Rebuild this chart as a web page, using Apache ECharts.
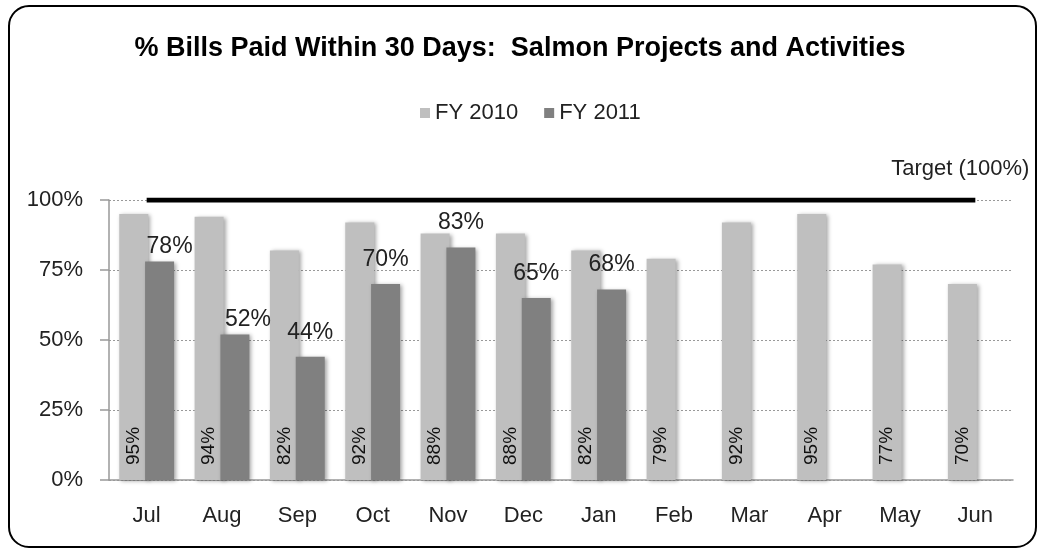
<!DOCTYPE html>
<html>
<head>
<meta charset="utf-8">
<script src="https://cdn.jsdelivr.net/npm/echarts@6/dist/echarts.min.js"></script>
<style>
html,body{margin:0;padding:0;background:#fff;}
#chart{width:1040px;height:550px;}
</style>
</head>
<body>
<div id="chart"></div>
<script>
const titleText = '% Bills Paid Within 30 Days:  Salmon Projects and Activities';
const months = ['Jul','Aug','Sep','Oct','Nov','Dec','Jan','Feb','Mar','Apr','May','Jun'];
const fy2010 = [95, 94, 82, 92, 88, 88, 82, 79, 92, 95, 77, 70];
const fy2011 = [78, 52, 44, 70, 83, 65, 68, null, null, null, null, null];
const target = [100, 100, 100, 100, 100, 100, 100, 100, 100, 100, 100, 100];
const targetLabel = 'Target (100%)';
const yTicks = [0, 25, 50, 75, 100];

const FONT = '"Liberation Sans", Arial, sans-serif';
const shadow = {shadowBlur: 4, shadowColor: 'rgba(0,0,0,0.35)', shadowOffsetX: 2, shadowOffsetY: 1};

const chart = echarts.init(document.getElementById('chart'), null, {renderer: 'canvas'});

const fy2011Data = fy2011.map(function (v, i) {
  if (v === null) return null;
  const item = {value: v};
  if (i === 0) item.label = {offset: [10, 0], distance: 3};
  if (i === 1) item.label = {offset: [13, 0], distance: 3};
  return item;
});

const targetData = target.map(function (v, i) {
  if (i === target.length - 1) {
    return {value: v, label: {show: true, formatter: targetLabel, position: 'top', distance: 20, offset: [-15, 0],
      color: '#222', fontSize: 22, fontFamily: FONT}};
  }
  return v;
});

chart.setOption({
  animation: false,
  backgroundColor: '#fff',
  textStyle: {fontFamily: FONT},
  title: {
    text: titleText,
    left: 'center',
    top: 30,
    textStyle: {fontSize: 27, fontWeight: 'bold', color: '#000', fontFamily: FONT}
  },
  legend: {
    left: 415,
    top: 97,
    itemWidth: 10,
    itemHeight: 10,
    itemGap: 26,
    icon: 'rect',
    data: ['FY 2010', 'FY 2011'],
    textStyle: {fontSize: 22, color: '#222', fontFamily: FONT}
  },
  grid: {left: 109, right: 27, top: 200, bottom: 70, containLabel: false},
  xAxis: {
    type: 'category',
    data: months,
    boundaryGap: true,
    axisLine: {lineStyle: {color: '#999', width: 1.5}},
    axisTick: {show: false},
    axisLabel: {fontSize: 22, color: '#222', margin: 25, fontFamily: FONT}
  },
  yAxis: {
    type: 'value',
    min: 0,
    max: 100,
    interval: 25,
    axisLine: {show: true, lineStyle: {color: '#999', width: 1.5}},
    axisTick: {show: true, length: 9, lineStyle: {color: '#999', width: 1.5}},
    axisLabel: {fontSize: 22, color: '#222', margin: 26, fontFamily: FONT,
      formatter: function (v) { return yTicks.indexOf(v) >= 0 ? v + '%' : ''; }},
    splitLine: {show: true, lineStyle: {color: '#999', type: [2, 2], width: 1}}
  },
  series: [
    {
      name: 'FY 2010',
      type: 'bar',
      data: fy2010,
      barWidth: 29,
      barGap: '-11%',
      itemStyle: Object.assign({color: '#BFBFBF'}, shadow),
      label: {
        show: true,
        position: 'insideBottom',
        rotate: 90,
        align: 'left',
        verticalAlign: 'middle',
        distance: 15,
        formatter: '{c}%',
        fontSize: 19,
        color: '#111',
        fontFamily: FONT
      }
    },
    {
      name: 'FY 2011',
      type: 'bar',
      data: fy2011Data,
      barWidth: 29,
      itemStyle: Object.assign({color: '#808080'}, shadow),
      label: {
        show: true,
        position: 'top',
        distance: 13,
        formatter: '{c}%',
        fontSize: 23,
        color: '#222',
        fontFamily: FONT
      }
    },
    {
      name: 'Target',
      type: 'line',
      data: targetData,
      symbol: 'circle',
      symbolSize: 0,
      showSymbol: true,
      showAllSymbol: true,
      z: 5,
      lineStyle: {color: '#000', width: 5},
      itemStyle: {color: '#000'},
      silent: true
    }
  ],
  graphic: [{
    type: 'rect',
    shape: {x: 9, y: 6, width: 1027, height: 541, r: 20},
    style: {fill: null, stroke: '#000', lineWidth: 2},
    silent: true,
    z: 100
  }]
});
</script>
</body>
</html>
